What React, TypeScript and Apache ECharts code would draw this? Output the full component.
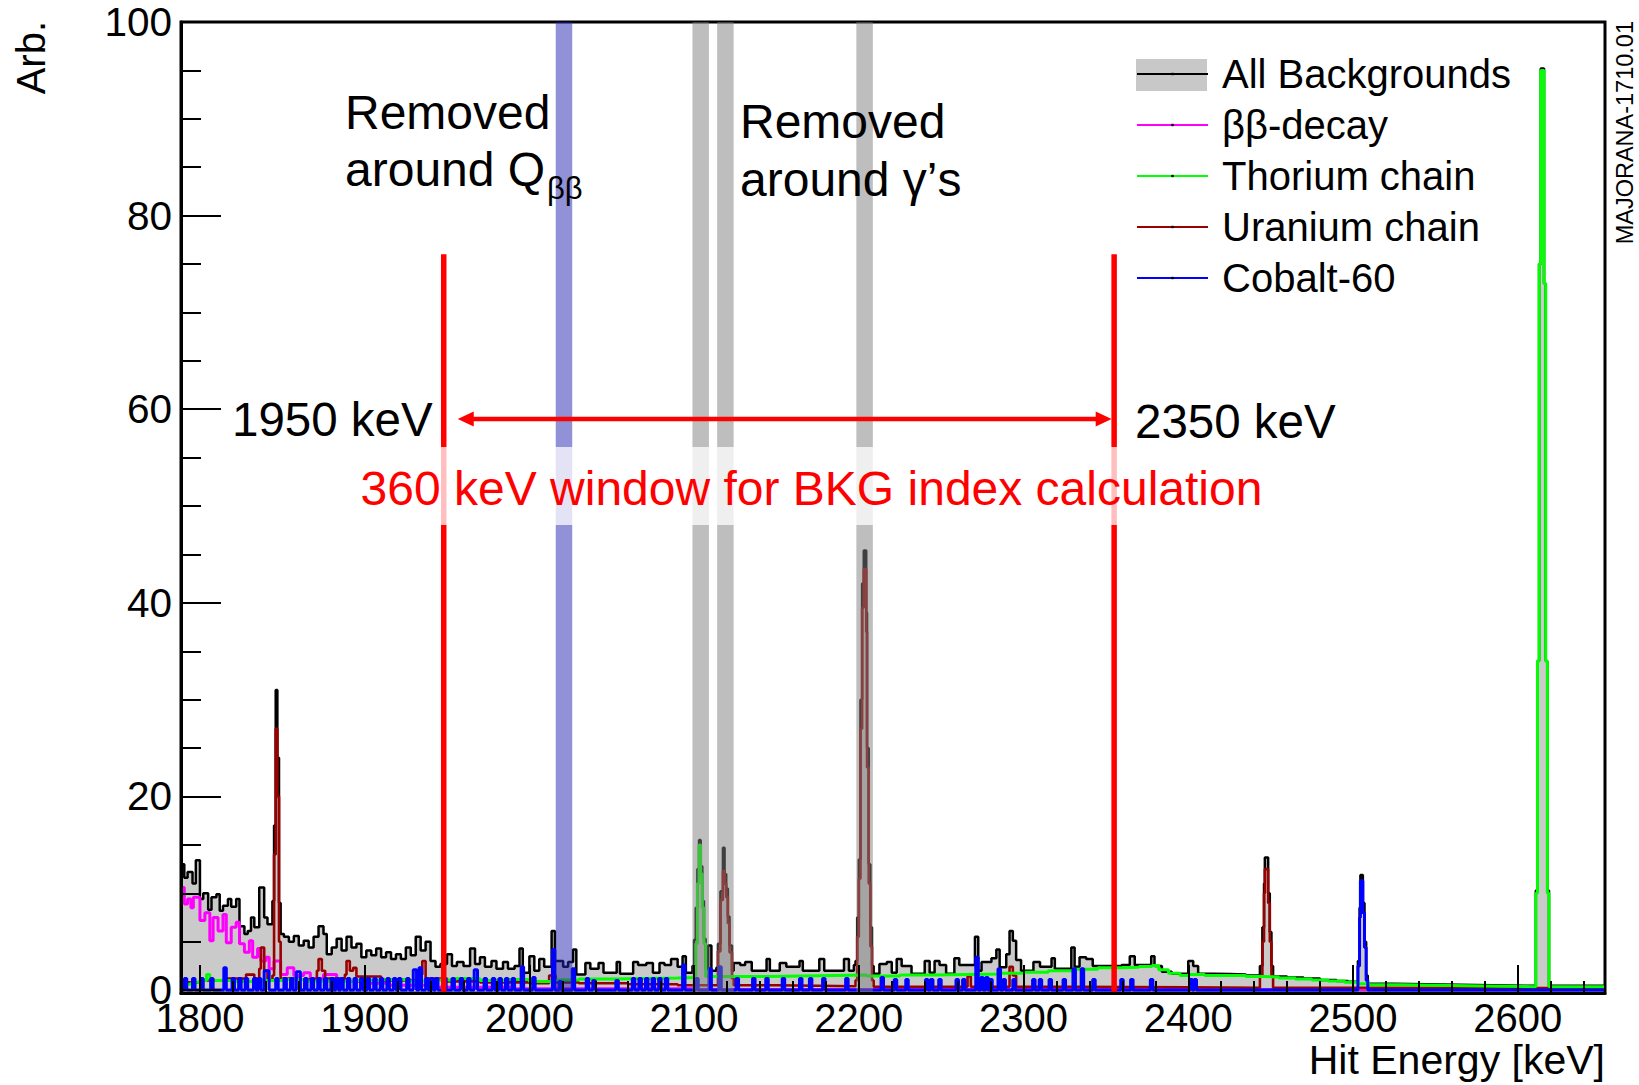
import React, { useEffect, useRef } from "react";
import * as echarts from "echarts";

const FONT = '"Liberation Sans", Arial, Helvetica, sans-serif';

const seriesNames = ["All Backgrounds", "ββ-decay", "Thorium chain", "Uranium chain", "Cobalt-60"];
const seriesColors = ["#000000", "#ff00ff", "#00ff00", "#990000", "#0000ff"];

const xRange = [1788.5, 2653];
const yRange = [-0.3, 100];
const xTickLabels = [1800, 1900, 2000, 2100, 2200, 2300, 2400, 2500, 2600];
const yTickLabels = [0, 20, 40, 60, 80, 100];

// histogram steps: [bin start (keV), value]
const allBackgrounds: number[][] = [
  [1788.5, 13.0], [1790.5, 11.6], [1792.5, 12.2], [1795.5, 11.0], [1797.5, 13.4], [1800, 9.4], [1802, 10.0], [1805, 8.3],
  [1807, 9.6], [1810, 9.9], [1812, 8.2], [1814, 8.7], [1817, 9.4], [1819, 8.6], [1822, 9.4], [1824, 6.6], [1827, 5.8],
  [1829, 6.1], [1831, 7.5], [1833, 6.5], [1836, 10.6], [1839, 7.5], [1841, 6.8], [1844, 9.2], [1845, 17], [1846, 31],
  [1847, 24], [1848, 9], [1849, 5.8], [1851, 5.5], [1854, 5.0], [1857, 5.6], [1860, 4.6], [1863, 5.1], [1866, 4.4],
  [1869, 5.5], [1872, 6.6], [1875, 5.8], [1877, 3.7], [1880, 4.4], [1883, 5.3], [1886, 4.1], [1889, 5.5], [1892, 4.4],
  [1895, 4.8], [1898, 3.4], [1901, 4.1], [1904, 3.6], [1907, 4.3], [1910, 3.4], [1913, 3.9], [1916, 3.2], [1919, 3.7],
  [1922, 3.2], [1925, 4.4], [1928, 3.6], [1931, 5.5], [1934, 4.1], [1937, 5.0], [1940, 3.0], [1943, 2.4], [1946, 2.7],
  [1950, 3.7], [1953, 2.5], [1956, 2.9], [1960, 2.5], [1964, 4.3], [1967, 2.7], [1970, 3.4], [1973, 2.4], [1977, 3.0],
  [1980, 2.2], [1984, 2.9], [1987, 2.2], [1991, 2.5], [1994, 4.3], [1996, 1.8], [2000, 3.5], [2003, 2.0], [2006, 3.2],
  [2009, 2.4], [2013.5, 6.1], [2015.5, 3.0], [2020.5, 2.4], [2023.5, 2.9], [2026.5, 4.2], [2028.5, 1.6], [2034, 2.8],
  [2037, 2.2], [2042, 2.8], [2045, 1.8], [2053, 2.9], [2055, 1.7], [2063, 2.9], [2066, 2.6], [2071, 2.8], [2075, 1.8],
  [2079, 2.8], [2082, 2.6], [2086, 3.2], [2090, 2.4], [2093, 3.5], [2095, 1.8], [2099, 2.5], [2100, 5.2], [2101, 8.5],
  [2102, 12.5], [2103, 15.5], [2104, 12.8], [2105, 9.2], [2106, 5.3], [2107, 2.2], [2108.5, 4.6], [2110.5, 2.0],
  [2113.5, 2.3], [2114.5, 4.8], [2116, 10.2], [2117.5, 14.7], [2118.5, 12], [2119.5, 10.5], [2120.5, 7.6], [2121.5, 4.6],
  [2123, 2.0], [2124, 2.8], [2128, 2.6], [2131, 2.9], [2135, 2.0], [2144, 3.2], [2146, 2.0], [2152, 2.8], [2156, 2.4],
  [2164, 3.0], [2166, 2.0], [2176, 3.2], [2179, 2.0], [2191, 3.2], [2194, 2.0], [2197, 2.6], [2198, 3.0], [2199, 7.5],
  [2200, 13.5], [2201, 30], [2202, 42], [2203, 45.4], [2204.5, 39], [2205, 25], [2206, 13], [2207, 6.5], [2208, 2.5],
  [2209, 1.7], [2212.5, 2.7], [2217, 2.9], [2220, 1.8], [2223, 3.2], [2226, 2.5], [2232, 1.7], [2240, 3.0], [2243, 1.8],
  [2246, 3.0], [2249, 2.6], [2253, 1.7], [2258, 3.3], [2261, 2.6], [2270.5, 5.5], [2272.5, 2.0], [2274.5, 2.9],
  [2280.5, 3.3], [2283.5, 4.2], [2285.5, 2.35], [2289.5, 3.7], [2291.5, 6.1], [2293.5, 5.1], [2295.5, 3.1], [2298.5, 2.0],
  [2306, 2.9], [2310, 2.4], [2317, 3.3], [2319, 2.2], [2329, 4.4], [2331, 2.4], [2334, 3.4], [2338, 3.2], [2342, 2.5],
  [2359.5, 2.6], [2364.5, 3.5], [2367.5, 2.6], [2377.5, 3.5], [2379.5, 2.5], [2384, 1.9], [2390, 1.7], [2400, 3.0],
  [2403, 2.5], [2406, 1.7], [2415, 1.65], [2425, 1.6], [2435, 1.5], [2443.5, 2.5], [2445, 6.5], [2446, 11], [2446.5, 13.7],
  [2448.5, 10], [2449.5, 6], [2450.5, 2.5], [2451.5, 1.4], [2460, 1.3], [2470, 1.2], [2480, 1.05], [2490, 0.95],
  [2497, 0.85], [2503, 3], [2504, 8.5], [2504.5, 11.9], [2506, 9], [2507, 5], [2508, 1.5], [2509, 0.65], [2525, 0.6],
  [2545, 0.55], [2565, 0.5], [2585, 0.45], [2605, 0.45], [2611, 10.3], [2612, 34], [2613, 75], [2614, 95.2], [2616, 73],
  [2617, 34], [2618, 10.3], [2619, 0.45], [2653, 0.45],
];

const bbDecay: number[][] = [
  [1788.5, 10.6], [1790.5, 8.9], [1792.5, 9.4], [1794.5, 8.5], [1796, 9.6], [1800, 7.2], [1803, 8.0], [1806, 5.1],
  [1808, 7.5], [1811, 6.1], [1814, 7.8], [1816, 4.9], [1819, 6.5], [1822, 7.0], [1824, 4.8], [1827, 3.9], [1830, 5.1],
  [1832, 3.4], [1835, 4.3], [1837, 3.0], [1840, 3.4], [1842, 2.2], [1845, 3.0], [1849, 1.6], [1853, 2.3], [1857, 1.5],
  [1863, 1.8], [1867, 1.2], [1875, 1.6], [1883, 1.0], [1891, 0.9], [1899, 0.7], [1915, 0.5], [1940, 0.3], [1990, 0.15],
  [2100, 0.05], [2653, 0.05],
];

const thoriumChain: number[][] = [
  [1788.5, 0.6], [1795, 0.8], [1800, 1.0], [1804, 1.6], [1806, 1.0], [1820, 0.9], [1835, 1.0], [1850, 1.1], [1865, 0.95],
  [1880, 0.9], [1895, 1.0], [1910, 1.1], [1925, 0.95], [1940, 1.05], [1955, 1.2], [1970, 1.0], [1985, 1.1], [2000, 0.9],
  [2015, 1.05], [2030, 1.15], [2050, 1.2], [2070, 1.25], [2090, 1.3], [2100, 1.4], [2101, 4.8], [2102, 11], [2103, 15],
  [2104, 12], [2105, 8.5], [2106, 4.8], [2107, 1.4], [2125, 1.4], [2145, 1.45], [2165, 1.5], [2185, 1.55], [2205, 1.45],
  [2225, 1.55], [2245, 1.6], [2265, 1.65], [2285, 1.75], [2300, 1.85], [2315, 2.0], [2330, 2.15], [2345, 2.3],
  [2360, 2.35], [2370, 2.45], [2378, 2.55], [2382, 2.1], [2388, 1.75], [2395, 1.5], [2400, 1.6], [2410, 1.5],
  [2425, 1.5], [2435, 1.4], [2445, 1.35], [2455, 1.25], [2465, 1.15], [2475, 1.05], [2485, 0.95], [2495, 0.8],
  [2503, 0.65], [2510, 0.55], [2530, 0.5], [2550, 0.45], [2570, 0.4], [2590, 0.35], [2611, 10], [2612, 34], [2613, 75],
  [2614, 95], [2616, 73], [2617, 34], [2618, 10], [2619, 0.35], [2653, 0.3],
];

const uraniumChain: number[][] = [
  [1788.5, 0.8], [1800, 1.0], [1815, 1.2], [1828, 1.6], [1833, 1.2], [1836, 2.2], [1837, 4.4], [1839, 2.0], [1841, 1.0],
  [1844, 1.5], [1845, 14], [1846, 27], [1847, 20], [1848, 5], [1849, 1.2], [1860, 1.1], [1871, 2.0], [1872, 3.2],
  [1874, 2.0], [1876, 1.2], [1888, 1.6], [1889, 3.0], [1891, 2.0], [1893, 2.3], [1895, 1.4], [1910, 1.0], [1934, 1.6],
  [1935, 3.0], [1937, 1.2], [1950, 0.9], [1970, 0.8], [2000, 0.7], [2012, 1.5], [2016, 0.8], [2030, 0.7], [2060, 0.6],
  [2090, 0.5], [2114.5, 4], [2116, 9.3], [2117.5, 12.3], [2118.5, 11], [2119.5, 9.6], [2120.5, 6.9], [2121.5, 3.9],
  [2123, 1.2], [2124, 0.5], [2150, 0.45], [2175, 0.4], [2198, 1.0], [2199, 5.5], [2200, 11.5], [2201, 27], [2202, 39.5],
  [2203, 43.5], [2204.5, 37], [2205, 23], [2206, 11], [2207, 4.5], [2208, 1.0], [2209, 0.35], [2266, 1.4], [2268, 0.35],
  [2291.5, 2.4], [2293.5, 1.5], [2295.5, 0.35], [2330, 0.3], [2400, 0.25], [2443.5, 1.5], [2445, 5], [2446, 10],
  [2446.5, 12.5], [2448.5, 9], [2449.5, 5], [2450.5, 1.5], [2451.5, 0.25], [2500, 0.2], [2653, 0.2],
];

// Cobalt-60: isolated single-count spikes [keV, value, width] on a zero baseline, plus the sum peak
const cobaltSpikes: number[][] = [
  [1790.5, 1.2], [1795.5, 1.2], [1800.5, 1.2], [1806.5, 1.2], [1814.5, 2.3], [1819.5, 1.2], [1823.5, 1.2], [1827.5, 1.2],
  [1832.5, 1.2], [1835.5, 1.2], [1839, 2.0, 3], [1846, 1.2], [1851, 1.2], [1855, 1.2], [1858.5, 1.9, 2.5], [1863.5, 1.2],
  [1867.5, 1.2], [1871.5, 1.2], [1875.5, 1.2], [1879.5, 1.2], [1882.5, 1.2], [1885.5, 1.2], [1889.5, 1.2], [1893.5, 1.2],
  [1897.5, 1.2], [1901.5, 1.2], [1905.5, 1.2], [1909.5, 1.2], [1913.5, 1.2], [1917.5, 1.2], [1920.5, 1.2], [1925.5, 1.2],
  [1929.5, 2.1, 2], [1933, 2.3], [1937, 1.2], [1940, 1.2], [1943, 1.2], [1948, 1.2], [1953, 1.2], [1958, 1.2],
  [1962.5, 1.2], [1966.5, 2.1, 2], [1972.5, 1.2], [1977.5, 1.2], [1981.5, 1.2], [1985.5, 1.2], [1989.5, 1.2],
  [1995, 2.4], [2002, 1.3], [2014, 4.2], [2018, 0.9], [2026, 2.2], [2034.5, 1.2], [2038.5, 1.0], [2052.5, 1.0],
  [2062.5, 1.2], [2066.5, 1.2], [2070.5, 1.2], [2074.5, 1.2], [2078.5, 1.2], [2082.5, 1.2], [2093, 2.6], [2101, 1.2],
  [2109, 2.2], [2115, 2.4], [2125.5, 1.2], [2135.5, 1.2], [2143.5, 1.2], [2153.5, 1.2], [2164, 1.2], [2170, 1.2],
  [2178, 1.2], [2192, 1.2], [2213.5, 1.3], [2221.5, 1.1], [2228.5, 1.1], [2240.5, 1.1], [2243.5, 1.1], [2248.5, 1.1],
  [2259, 1.1], [2263, 1.1], [2271, 3.4], [2274, 1.3], [2277, 1.3], [2279.5, 1.1], [2284.5, 2.2], [2287.5, 1.1],
  [2293.5, 1.1], [2305.5, 1.1], [2309.5, 1.1], [2315.5, 1.1], [2324, 1.1], [2330, 2.2], [2335, 2.2], [2342, 1.1],
  [2359, 1.1], [2365, 1.1], [2377, 1.1], [2401, 1.1], [2403.5, 1.1],
];
const cobaltPeak: number[][] = [
  [2503, 2.5], [2504, 7.5], [2504.5, 11.3], [2506, 8], [2507, 4.4], [2508, 1.0], [2509, 0],
];

// annotation values
const qbbBands: number[][] = [[2016, 2026]];
const gammaBands: number[][] = [[2099, 2109], [2114, 2124], [2198.5, 2208.5]];
const windowLines = [1948, 2355];
const windowLineTop = 76;
const arrowSpan = [1956.5, 2353.5, 59];

function buildCobalt(): number[][] {
  const pts: number[][] = [[xRange[0], 0]];
  cobaltSpikes.forEach((s) => {
    const w = s[2] !== undefined ? s[2] : 1.5;
    pts.push([s[0], s[1]]);
    pts.push([s[0] + w, 0]);
  });
  cobaltPeak.forEach((p) => pts.push(p));
  pts.push([xRange[1], 0]);
  pts.sort((a, b) => a[0] - b[0]);
  return pts;
}

function lineSeries(i: number, data: number[][], width: number, extra: any = {}) {
  return {
    type: "line",
    name: seriesNames[i],
    data,
    step: "end",
    symbol: "rect",
    symbolSize: 3,
    showSymbol: false,
    clip: true,
    silent: true,
    lineStyle: { color: seriesColors[i], width },
    itemStyle: { color: seriesColors[i] },
    emphasis: { disabled: true },
    ...extra,
  };
}

function isTick(v: number, list: number[]) {
  return list.some((t) => Math.abs(t - v) < 1e-6);
}

const txt = (x: number, y: number, text: string, size: number, color = "#000", align = "left", extra: any = {}) => ({
  type: "text",
  x,
  y,
  z: 101,
  ...extra,
  style: {
    text,
    fill: color,
    fontSize: size,
    fontFamily: FONT,
    align,
    textAlign: align,
    verticalAlign: "middle",
    textVerticalAlign: "middle",
  },
});

export default function App() {
  const ref = useRef<HTMLDivElement>(null);
  useEffect(() => {
    const chart = echarts.init(ref.current!, null, { renderer: "svg" });
    const bandData = [
      ...qbbBands.map((b) => [b[0], b[1], 0]),
      ...gammaBands.map((b) => [b[0], b[1], 1]),
    ];
    const option: any = {
      animation: false,
      backgroundColor: "#ffffff",
      grid: {
        left: 181,
        right: 34,
        top: 22,
        bottom: 92,
        show: true,
        borderColor: "#000",
        borderWidth: 3,
        backgroundColor: "transparent",
        containLabel: false,
        outerBoundsMode: "none",
      },
      xAxis: {
        type: "value",
        min: xRange[0],
        max: xRange[1],
        minInterval: 100,
        maxInterval: 100,
        z: 10,
        axisLine: { show: true, onZero: false, lineStyle: { color: "#000", width: 3 } },
        axisTick: { show: true, inside: true, length: 28, lineStyle: { color: "#000", width: 2 } },
        minorTick: { show: true, splitNumber: 5, length: 12, lineStyle: { color: "#000", width: 2 } },
        splitLine: { show: false },
        minorSplitLine: { show: false },
        axisLabel: {
          margin: 7,
          fontSize: 40,
          lineHeight: 36,
          fontFamily: FONT,
          color: "#000",
          formatter: (v: number) => (isTick(v, xTickLabels) ? String(Math.round(v)) : ""),
        },
      },
      yAxis: {
        type: "value",
        min: yRange[0],
        max: yRange[1],
        minInterval: 20,
        maxInterval: 20,
        z: 10,
        axisLine: { show: true, onZero: false, lineStyle: { color: "#000", width: 3 } },
        axisTick: { show: true, inside: true, length: 40, lineStyle: { color: "#000", width: 2 } },
        minorTick: { show: true, splitNumber: 4, length: 20, lineStyle: { color: "#000", width: 2 } },
        splitLine: { show: false },
        minorSplitLine: { show: false },
        axisLabel: {
          margin: 9,
          fontSize: 40.5,
          lineHeight: 20,
          fontFamily: FONT,
          color: "#000",
          formatter: (v: number) => (isTick(v, yTickLabels) ? String(Math.round(v)) : ""),
        },
      },
      legend: {
        show: true,
        orient: "vertical",
        left: 1136,
        top: 48.5,
        padding: 0,
        itemWidth: 71,
        itemHeight: 3,
        itemGap: 0,
        selectedMode: false,
        z: 4,
        data: seriesNames,
        itemStyle: { color: "#000", borderWidth: 0 },
        textStyle: {
          fontSize: 40,
          fontFamily: FONT,
          color: "#000",
          lineHeight: 33,
          padding: [0, 0, 18, 9],
        },
      },
      series: [
        lineSeries(0, allBackgrounds, 2.5, {
          areaStyle: { color: "#cacaca", opacity: 1, origin: 0 },
        }),
        lineSeries(1, bbDecay, 3),
        lineSeries(3, uraniumChain, 2.6),
        lineSeries(2, thoriumChain, 3),
        lineSeries(4, buildCobalt(), 3),
        {
          type: "custom",
          name: "removed-bands",
          z: 5,
          silent: true,
          data: bandData,
          encode: { x: [0, 1] },
          renderItem: (params: any, api: any) => {
            const p0 = api.coord([api.value(0), yRange[1]]);
            const p1 = api.coord([api.value(1), yRange[0]]);
            const kind = api.value(2);
            return {
              type: "rect",
              shape: { x: p0[0], y: p0[1], width: p1[0] - p0[0], height: p1[1] - p0[1] },
              style: { fill: kind === 0 ? "rgba(35,35,175,0.5)" : "rgba(125,125,125,0.5)" },
            };
          },
        },
        {
          type: "custom",
          name: "window-lines",
          z: 6,
          silent: true,
          data: windowLines.map((x) => [x]),
          encode: { x: 0 },
          renderItem: (params: any, api: any) => {
            const a = api.coord([api.value(0), yRange[0]]);
            const b = api.coord([api.value(0), windowLineTop]);
            return {
              type: "line",
              shape: { x1: a[0], y1: a[1], x2: b[0], y2: b[1] },
              style: { stroke: "#ff0000", lineWidth: 5.5 },
            };
          },
        },
        {
          type: "custom",
          name: "window-arrow",
          z: 6,
          silent: true,
          data: [arrowSpan],
          encode: { x: [0, 1], y: 2 },
          renderItem: (params: any, api: any) => {
            const yv = api.value(2);
            const a = api.coord([api.value(0), yv]);
            const b = api.coord([api.value(1), yv]);
            const L = 16;
            const H = 7.5;
            return {
              type: "group",
              children: [
                {
                  type: "line",
                  shape: { x1: a[0] + L - 2, y1: a[1], x2: b[0] - L + 2, y2: b[1] },
                  style: { stroke: "#ff0000", lineWidth: 4.5 },
                },
                {
                  type: "polygon",
                  shape: { points: [[a[0], a[1]], [a[0] + L, a[1] - H], [a[0] + L, a[1] + H]] },
                  style: { fill: "#ff0000" },
                },
                {
                  type: "polygon",
                  shape: { points: [[b[0], b[1]], [b[0] - L, b[1] - H], [b[0] - L, b[1] + H]] },
                  style: { fill: "#ff0000" },
                },
              ],
            };
          },
        },
      ],
      graphic: {
        elements: [
          { type: "rect", z: 1, shape: { x: 1136, y: 59, width: 71, height: 32 }, style: { fill: "#c8c8c8" } },
          { type: "rect", z: 100, shape: { x: 352, y: 447, width: 918, height: 78 }, style: { fill: "rgba(255,255,255,0.75)" } },
          txt(360.6, 488, "360 keV window for BKG index calculation", 48, "#ff0000"),
          txt(345, 112, "Removed", 48),
          txt(345, 169, "around Q", 48),
          txt(547, 188, "ββ", 31),
          txt(740, 121, "Removed", 48),
          txt(740, 179, "around γ’s", 48),
          txt(232, 419, "1950 keV", 47.5),
          txt(1135, 421, "2350 keV", 47.5),
          txt(1605, 1060, "Hit Energy [keV]", 41, "#000", "right"),
          txt(31, 21, "Arb.", 40, "#000", "right", { rotation: Math.PI / 2 }),
          txt(1625, 21, "MAJORANA-1710.01", 23.5, "#000", "right", { rotation: Math.PI / 2 }),
        ],
      },
    };
    chart.setOption(option);
    return () => chart.dispose();
  }, []);
  return (
    <div
      ref={ref}
      style={{ position: "fixed", left: 0, top: 0, width: 1639, height: 1085, background: "#fff" }}
    />
  );
}
